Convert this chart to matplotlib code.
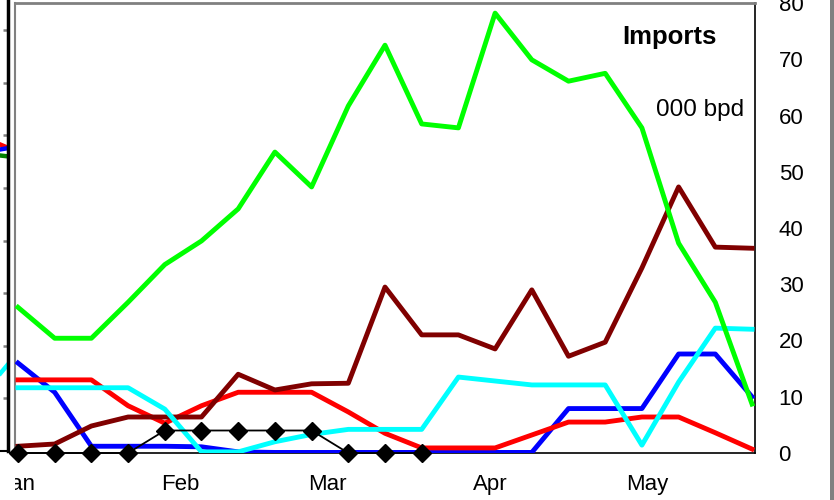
import matplotlib
matplotlib.use("Agg")
import matplotlib.pyplot as plt
import matplotlib.dates as mdates
import numpy as np
import datetime as dt
from matplotlib.patches import Rectangle

plt.rcParams['font.family'] = ['Liberation Sans', 'DejaVu Sans']

# ---- data (weekly, 000 bpd) ----
start = dt.date(2003, 1, 1)
dates = [start + dt.timedelta(days=7 * i) for i in range(21)]

green = [25.9, 20.4, 20.4, 26.8, 33.5, 37.7, 43.4, 53.5, 47.3, 61.7, 72.5,
         58.5, 57.8, 78.2, 69.9, 66.1, 67.5, 57.8, 37.3, 26.8, 8.7]
blue = [16.0, 10.8, 1.2, 1.2, 1.2, 1.1, 0.2, 0.1, 0.1, 0.1, 0.1,
        0.1, 0.1, 0.1, 0.1, 7.9, 7.9, 7.9, 17.6, 17.6, 10.0]
red = [13.0, 13.0, 13.0, 8.4, 5.3, 8.4, 10.8, 10.8, 10.8, 7.3, 3.5,
       0.9, 0.9, 0.9, 3.2, 5.5, 5.5, 6.4, 6.4, 3.6, 0.7]
maroon = [1.2, 1.6, 4.8, 6.4, 6.4, 6.4, 14.0, 11.2, 12.3, 12.4, 29.5,
          21.0, 21.0, 18.5, 29.0, 17.2, 19.7, 32.9, 47.3, 36.6, 36.4]
cyan = [11.6, 11.6, 11.6, 11.6, 7.8, 0.2, 0.2, 2.0, 3.3, 4.2, 4.2,
        4.2, 13.5, 12.8, 12.1, 12.1, 12.1, 1.4, 12.6, 22.2, 22.0]
black = [0, 0, 0, 0, 4.0, 4.0, 4.0, 4.0, 4.0, 0, 0, 0] + [np.nan] * 9

month_ticks = [dt.date(2003, m, 1) for m in range(1, 6)]
month_labels = ['Jan', 'Feb', 'Mar', 'Apr', 'May']
y_ticks = [0, 10, 20, 30, 40, 50, 60, 70, 80]

# partial neighbouring chart on the left (only line ends visible)
left_x = [-10, 8.5]
left_red = [5.91, 5.76]
left_blue = [5.70, 5.76]
left_green = [5.64, 5.60]
left_cyan = [1.24, 1.66]
left_ticks = [0, 1, 2, 3, 4, 5, 6, 7, 8]

W, H = 834, 500
fig = plt.figure(figsize=(W / 100, H / 100), dpi=100)

# ---- left neighbour panel ----
ax0 = fig.add_axes([-50 / W, 49 / H, 58.5 / W, 451 / H])
ax0.set_xlim(-50, 8.5)
ax0.set_ylim(0, 451 / 52.6)
for c, d in [('#FF0000', left_red), ('#0000FF', left_blue),
             ('#008000', left_green), ('#00FFFF', left_cyan)]:
    ax0.plot(left_x, d, color=c, lw=3.2, solid_capstyle='butt', clip_on=True)
for s in ['top', 'left']:
    ax0.spines[s].set_visible(False)
ax0.spines['right'].set_color('black')
ax0.spines['right'].set_linewidth(2.5)
ax0.spines['bottom'].set_color('black')
ax0.spines['bottom'].set_linewidth(1.5)
ax0.set_xticks([])
ax0.set_yticks(left_ticks)
ax0.yaxis.tick_right()
ax0.tick_params(axis='y', direction='out', length=0, labelright=False)
for t in left_ticks[1:]:
    ax0.plot([2.5, 7.3], [t, t], color='#808080', lw=1.8, solid_capstyle='butt')

# ---- main panel ----
ax = fig.add_axes([15 / W, 47 / H, 740 / W, 450 / H])
ax.plot(dates, blue, color='#0000FF', lw=3.5, zorder=3)
ax.plot(dates, red, color='#FF0000', lw=3.5, zorder=3)
ax.plot(dates, maroon, color='#800000', lw=3.5, zorder=3)
ax.plot(dates, cyan, color='#00FFFF', lw=3.5, zorder=3)
ax.plot(dates, green, color='#00FF00', lw=3.5, zorder=3)
ax.plot(dates, black, color='black', lw=1.3, marker='D', markersize=9,
        zorder=4, clip_on=False)

x0 = mdates.date2num(dates[0]) - 0.57
x1 = mdates.date2num(dates[-1]) + 0.57
ax.set_xlim(x0, x1)
ax.set_ylim(0, 80)

ax.set_xticks(month_ticks)
ax.set_xticklabels(month_labels)
ax.set_yticks(y_ticks)
ax.yaxis.tick_right()
ax.tick_params(axis='y', length=0, pad=17, labelsize=16)
ax.tick_params(axis='x', length=0, pad=15, labelsize=16)
for lab in ax.get_yticklabels():
    lab.set_horizontalalignment('left')

ax.spines['top'].set_color('#808080')
ax.spines['top'].set_linewidth(2)
ax.spines['left'].set_color('#808080')
ax.spines['left'].set_linewidth(1.5)
ax.spines['right'].set_color('black')
ax.spines['right'].set_linewidth(1.2)
ax.spines['bottom'].set_color('black')
ax.spines['bottom'].set_linewidth(1.2)

ax.text(0.885, 0.925, 'Imports', transform=ax.transAxes, ha='center',
        va='center', fontsize=18.5, fontweight='bold')
ax.text(0.985, 0.763, '000 bpd', transform=ax.transAxes, ha='right',
        va='center', fontsize=17.5)

# white cover over the lower-left corner (hides the "J" of Jan, as in the crop)
fig.add_artist(Rectangle((0, 0), 14.5 / W, 38 / H, transform=fig.transFigure,
                         facecolor='white', edgecolor='none', zorder=10))
# grey frame edge at the right
fig.add_artist(Rectangle((829.5 / W, 0), 4.5 / W, 1, transform=fig.transFigure,
                         facecolor='#808080', edgecolor='none', zorder=10))

fig.savefig('out.png', dpi=100)
